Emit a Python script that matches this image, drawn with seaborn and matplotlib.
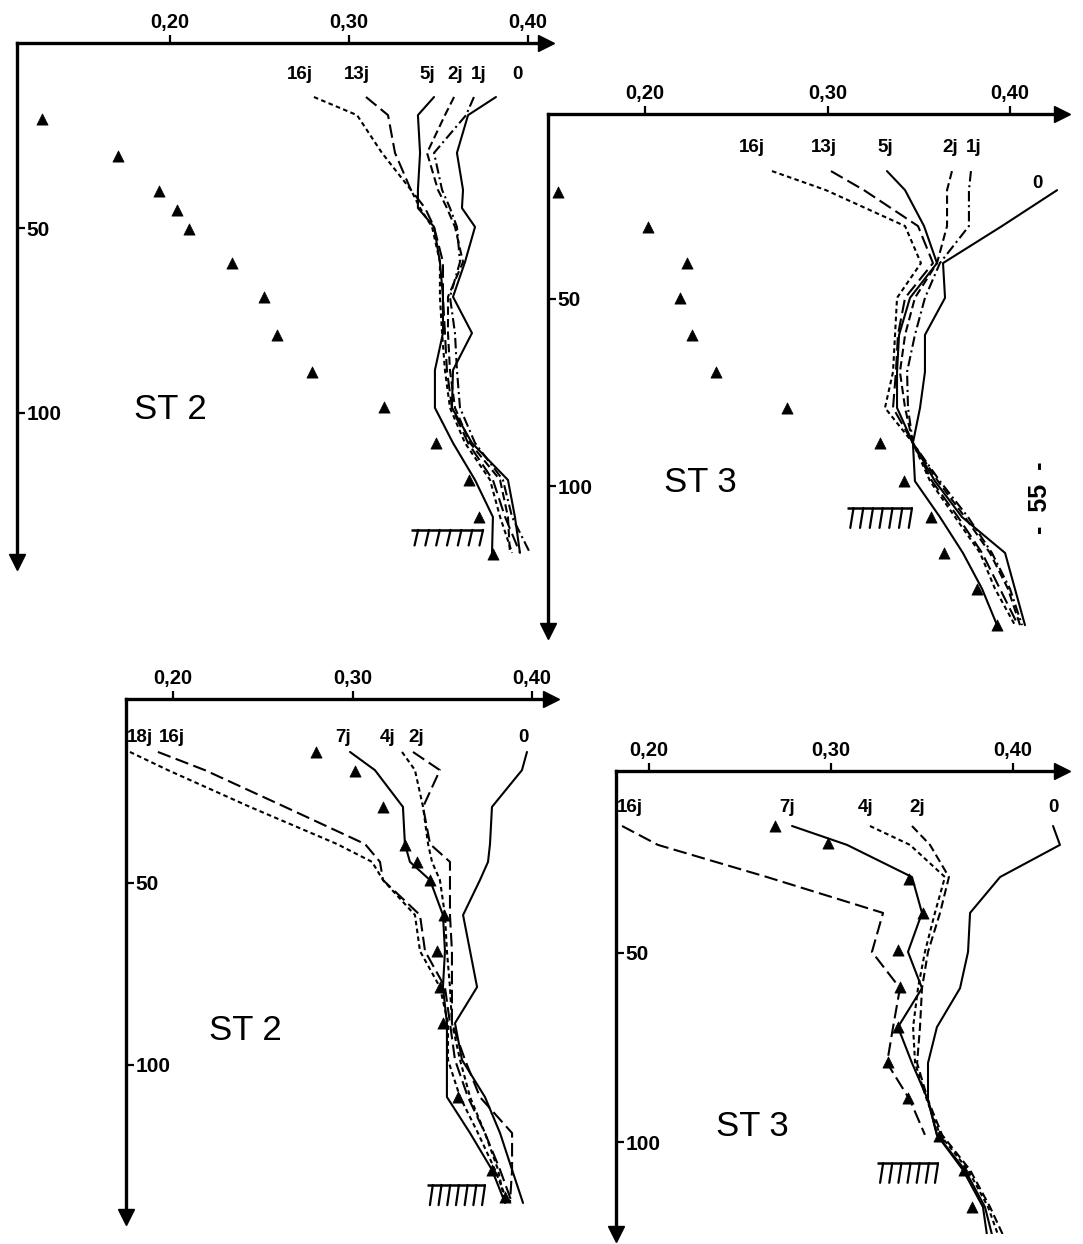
import numpy as np
import pandas as pd
import matplotlib
matplotlib.use("Agg")
import matplotlib.pyplot as plt
import seaborn as sns

sns.set_style("white")
plt.rcParams["font.family"] = ["Liberation Sans", "DejaVu Sans"]
plt.rcParams["text.color"] = "black"
plt.rcParams["xtick.color"] = "black"
plt.rcParams["ytick.color"] = "black"

# ---------------- data ----------------
xticks = [0.20, 0.30, 0.40]
xtick_labels = ["0,20", "0,30", "0,40"]
yticks = [50, 100]
ytick_labels = ["50", "100"]

# Panel A : ST 2 (top left)
a_depth = [14.6, 19.5, 29.7, 39.7, 44.6, 49.7, 59.2, 68.6, 78.4, 88.4, 98.6, 108.1, 118.1, 128.1, 137.8]
a_16j = [0.2804, 0.3045, 0.3184, 0.3346, 0.3397, 0.3464, 0.3508, 0.3508, 0.3520, 0.3536, 0.3564, 0.3648, 0.3788, 0.3844, 0.3911]
a_13j = [0.3095, 0.3218, 0.3257, 0.3346, 0.3425, 0.3475, 0.3525, 0.3525, 0.3536, 0.3547, 0.3575, 0.3665, 0.3804, 0.3872, 0.3955]
a_5j = [0.3475, 0.3385, 0.3397, 0.3385, 0.3385, 0.3475, 0.3508, 0.3525, 0.3525, 0.3480, 0.3480, 0.3581, 0.3704, 0.3804, 0.3799]
a_2j = [0.3587, 0.3536, 0.3436, 0.3497, 0.3547, 0.3592, 0.3637, 0.3553, 0.3553, 0.3564, 0.3592, 0.3676, 0.3844, 0.3888, 0.3899]
a_1j = [0.3698, 0.3654, 0.3475, 0.3520, 0.3564, 0.3603, 0.3620, 0.3564, 0.3592, 0.3603, 0.3620, 0.3704, 0.3860, 0.3911, 0.4011]
a_0 = [0.3821, 0.3665, 0.3603, 0.3637, 0.3631, 0.3704, 0.3648, 0.3581, 0.3687, 0.3581, 0.3575, 0.3687, 0.3888, 0.3927, 0.3955]
a_tri_depth = [20.5, 30.5, 40.0, 45.0, 50.3, 59.5, 68.6, 78.9, 88.9, 98.4, 108.0, 118.0, 128.0, 138.0]
a_tri_value = [0.1285, 0.1709, 0.1939, 0.2039, 0.2106, 0.2346, 0.2525, 0.2598, 0.2793, 0.3196, 0.3486, 0.3670, 0.3726, 0.3804]
a_labels = ["16j", "13j", "5j", "2j", "1j", "0"]
a_label_x = [0.2726, 0.3045, 0.3436, 0.3592, 0.3726, 0.3940]
a_label_d = [8.6, 8.6, 8.6, 8.6, 8.6, 8.6]
a_bottom_x = [0.3346, 0.3749]
a_bottom_d = [131.6, 135.8]

# Panel B : ST 3 (top right)
b_depth = [15.8, 20.9, 30.5, 40.4, 49.7, 59.6, 69.5, 79.1, 88.5, 98.7, 108.3, 117.9, 127.5, 137.2]
b_16j = [0.2696, 0.2992, 0.3425, 0.3512, 0.3381, 0.3370, 0.3359, 0.3315, 0.3468, 0.3562, 0.3699, 0.3836, 0.3918, 0.4027]
b_13j = [0.3019, 0.3200, 0.3496, 0.3578, 0.3425, 0.3386, 0.3375, 0.3359, 0.3468, 0.3573, 0.3715, 0.3847, 0.3945, 0.4044]
b_5j = [0.3326, 0.3425, 0.3529, 0.3600, 0.3452, 0.3392, 0.3381, 0.3381, 0.3468, 0.3589, 0.3737, 0.3973, 0.4027, 0.4082]
b_2j = [0.3682, 0.3655, 0.3655, 0.3600, 0.3479, 0.3425, 0.3397, 0.3425, 0.3468, 0.3605, 0.3753, 0.3890, 0.3989, 0.4055]
b_1j = [0.3786, 0.3775, 0.3775, 0.3616, 0.3534, 0.3479, 0.3436, 0.3441, 0.3468, 0.3616, 0.3770, 0.3901, 0.4000, 0.4066]
b_0 = [np.nan, 0.4258, 0.3956, 0.3633, 0.3644, 0.3534, 0.3534, 0.3507, 0.3468, 0.3479, 0.3616, 0.3742, 0.3847, 0.3929]
b_tri_depth = [21.4, 30.7, 40.4, 49.7, 59.6, 69.5, 79.1, 88.5, 98.7, 108.3, 117.9, 127.5, 137.2]
b_tri_value = [0.1523, 0.2016, 0.2230, 0.2192, 0.2258, 0.2389, 0.2778, 0.3288, 0.3419, 0.3567, 0.3638, 0.3819, 0.3929]
b_labels = ["16j", "13j", "5j", "2j", "1j", "0"]
b_label_x = [0.2586, 0.2981, 0.3315, 0.3671, 0.3803, 0.4148]
b_label_d = [9.6, 9.6, 9.6, 9.6, 9.6, 19.0]
b_bottom_x = [0.3107, 0.3463]
b_bottom_d = [105.9, 111.2]

# Panel C : ST 2 (bottom left)
c_depth = [14.0, 19.0, 29.1, 39.3, 44.2, 49.2, 58.8, 68.7, 78.6, 88.5, 98.6, 108.8, 118.7, 128.8, 137.9]
c_18j = [0.1760, 0.1972, 0.2429, 0.2914, 0.3109, 0.3170, 0.3348, 0.3376, 0.3487, 0.3532, 0.3532, 0.3599, 0.3699, 0.3794, 0.3866]
c_16j = [0.1916, 0.2178, 0.2624, 0.3070, 0.3153, 0.3170, 0.3376, 0.3404, 0.3515, 0.3543, 0.3571, 0.3643, 0.3738, 0.3822, 0.3889]
c_7j = [0.2986, 0.3125, 0.3281, 0.3292, 0.3320, 0.3432, 0.3504, 0.3515, 0.3504, 0.3526, 0.3526, 0.3526, 0.3655, 0.3777, 0.3850]
c_4j = [0.3276, 0.3348, 0.3393, 0.3421, 0.3443, 0.3487, 0.3515, 0.3526, 0.3543, 0.3554, 0.3599, 0.3655, 0.3738, 0.3811, 0.3850]
c_2j = [0.3337, 0.3487, 0.3393, 0.3432, 0.3543, 0.3543, 0.3543, 0.3554, 0.3554, 0.3554, 0.3627, 0.3710, 0.3889, 0.3889, 0.3877]
c_0 = [0.3972, 0.3944, 0.3777, 0.3766, 0.3755, 0.3710, 0.3616, 0.3655, 0.3694, 0.3571, 0.3610, 0.3738, 0.3822, 0.3889, 0.3950]
c_tri_depth = [14.0, 19.2, 29.1, 39.6, 44.2, 49.2, 58.8, 68.7, 78.6, 88.5, 108.8, 128.8, 136.3]
c_tri_value = [0.2797, 0.3014, 0.3170, 0.3292, 0.3359, 0.3432, 0.3510, 0.3470, 0.3487, 0.3504, 0.3588, 0.3777, 0.3850]
c_labels = ["18j", "16j", "7j", "4j", "2j", "0"]
c_label_x = [0.1816, 0.1994, 0.2947, 0.3198, 0.3354, 0.3955]
c_label_d = [9.9, 9.9, 9.9, 9.9, 9.9, 9.9]
c_bottom_x = [0.3415, 0.3738]
c_bottom_d = [133.0, 138.5]

# Panel D : ST 3 (bottom right)
d_depth = [16.4, 21.4, 29.9, 39.4, 49.7, 59.3, 69.6, 79.1, 88.9, 98.1, 107.4, 117.2, 124.6]
d_16j = [0.1852, 0.2049, 0.2648, 0.3286, 0.3225, 0.3379, 0.3341, 0.3308, 0.3434, 0.3516, np.nan, np.nan, np.nan]
d_7j = [0.2786, 0.3088, 0.3445, 0.3500, 0.3423, 0.3500, 0.3368, 0.3445, 0.3533, 0.3582, 0.3736, 0.3846, 0.3885]
d_4j = [0.3214, 0.3434, 0.3626, 0.3571, 0.3516, 0.3478, 0.3451, 0.3462, 0.3527, 0.3599, 0.3753, 0.3863, 0.3918]
d_2j = [0.3445, 0.3544, 0.3648, 0.3599, 0.3533, 0.3500, 0.3489, 0.3473, 0.3533, 0.3610, 0.3764, 0.3874, 0.3945]
d_0 = [0.4220, 0.4258, 0.3929, 0.3764, 0.3753, 0.3709, 0.3582, 0.3533, 0.3533, 0.3582, 0.3725, 0.3835, 0.3857]
d_tri_depth = [16.4, 20.9, 30.4, 39.4, 49.2, 59.0, 69.6, 78.8, 88.4, 98.4, 107.4, 117.2]
d_tri_value = [0.2692, 0.2984, 0.3429, 0.3505, 0.3368, 0.3379, 0.3368, 0.3313, 0.3423, 0.3593, 0.3731, 0.3775]
d_labels = ["16j", "7j", "4j", "2j", "0"]
d_label_x = [0.1896, 0.2758, 0.3192, 0.3473, 0.4220]
d_label_d = [11.6, 11.6, 11.6, 11.6, 11.6]
d_bottom_x = [0.3253, 0.3588]
d_bottom_d = [105.6, 110.8]

# ---------------- styles ----------------
SOLID = ""
SHORT = (2.2, 1.6)
MED = (4.0, 2.0)
LONG = (6.5, 2.6)
DASHDOT = (5.0, 1.8, 1.0, 1.8)

FIG_W, FIG_H = 1083, 1244


def rect(px_left, px_top, px_right, px_bottom):
    return [px_left / FIG_W, 1 - px_bottom / FIG_H,
            (px_right - px_left) / FIG_W, (px_bottom - px_top) / FIG_H]


def draw_panel(ax, depth, curves, dashes, tri_v, tri_d, labels, lab_x, lab_d,
               bottom_x, bottom_d, station, st_x, st_d, xlim, ylim):
    rows = []
    for name, vals in curves.items():
        for d, v in zip(depth, vals):
            rows.append({"curve": name, "value": v, "depth": d})
    df = pd.DataFrame(rows).dropna()
    sns.lineplot(data=df, x="value", y="depth", hue="curve", style="curve",
                 palette={k: "black" for k in curves}, dashes=dashes,
                 estimator=None, sort=False, linewidth=1.5, legend=False, ax=ax)
    sns.scatterplot(x=tri_v, y=tri_d, marker="^", color="black", s=65,
                    edgecolor="black", linewidth=0.5, ax=ax, zorder=5)
    for t, x, d in zip(labels, lab_x, lab_d):
        ax.text(x, d, t, ha="center", va="center", fontsize=13.5,
                fontweight="bold", color="black")
    # bottom (sediment) symbol
    x0, x1 = bottom_x
    dt, db = bottom_d
    ax.plot([x0, x1], [dt, dt], color="black", lw=1.8, solid_capstyle="butt")
    slant = (x1 - x0) * 0.05
    for xs in np.linspace(x0 + (x1 - x0) * 0.1, x1, 7):
        ax.plot([xs, xs - slant], [dt, db], color="black", lw=1.6)
    ax.text(st_x, st_d, station, ha="center", va="center", fontsize=25,
            color="black",
            family=["Liberation Sans Narrow", "Liberation Sans", "DejaVu Sans"])

    ax.set_xlim(*xlim)
    ax.set_ylim(*ylim)
    ax.set_xlabel("")
    ax.set_ylabel("")
    ax.xaxis.tick_top()
    ax.set_xticks(xticks)
    ax.set_xticklabels(xtick_labels, fontsize=14.5, fontweight="bold")
    ax.set_yticks(yticks)
    ax.set_yticklabels(ytick_labels, fontsize=15, fontweight="bold")
    ax.tick_params(axis="x", direction="out", length=6, width=1.6, pad=2,
                   top=True, bottom=False, labeltop=True, labelbottom=False,
                   colors="black")
    ax.tick_params(axis="y", direction="in", length=6, width=1.6, pad=-7,
                   left=True, right=False, colors="black")
    for lab in ax.get_yticklabels():
        lab.set_horizontalalignment("left")
    for s in ["right", "bottom"]:
        ax.spines[s].set_visible(False)
    for s in ["top", "left"]:
        ax.spines[s].set_linewidth(2.4)
        ax.spines[s].set_color("black")
    ax.set_facecolor("none")
    ax.plot([1.0], [1.0], marker=">", ms=12, color="black",
            transform=ax.transAxes, clip_on=False)
    ax.plot([0.0], [0.0], marker="v", ms=12, color="black",
            transform=ax.transAxes, clip_on=False)
    ax.grid(False)


fig = plt.figure(figsize=(FIG_W / 100, FIG_H / 100), dpi=100)
fig.patch.set_facecolor("white")

axA = fig.add_axes(rect(17, 43, 546, 562))
draw_panel(axA, a_depth,
           {"16j": a_16j, "13j": a_13j, "5j": a_5j, "2j": a_2j, "1j": a_1j, "0": a_0},
           {"16j": SHORT, "13j": LONG, "5j": SOLID, "2j": MED, "1j": DASHDOT, "0": SOLID},
           a_tri_value, a_tri_depth, a_labels, a_label_x, a_label_d,
           a_bottom_x, a_bottom_d, "ST 2", 0.200, 99.0,
           (0.20 + (17 - 170) / 1790, 0.20 + (546 - 170) / 1790),
           ((562 - 43) / 3.7, 0.0))

axB = fig.add_axes(rect(548, 114, 1062, 631))
draw_panel(axB, b_depth,
           {"16j": b_16j, "13j": b_13j, "5j": b_5j, "2j": b_2j, "1j": b_1j, "0": b_0},
           {"16j": SHORT, "13j": LONG, "5j": SOLID, "2j": MED, "1j": DASHDOT, "0": SOLID},
           b_tri_value, b_tri_depth, b_labels, b_label_x, b_label_d,
           b_bottom_x, b_bottom_d, "ST 3", 0.2301, 99.0,
           (0.20 + (548 - 645) / 1825, 0.20 + (1062 - 645) / 1825),
           ((631 - 112) / 3.74, (114 - 112) / 3.74))

axC = fig.add_axes(rect(126, 699, 551, 1217))
draw_panel(axC, c_depth,
           {"18j": c_18j, "16j": c_16j, "7j": c_7j, "4j": c_4j, "2j": c_2j, "0": c_0},
           {"18j": SHORT, "16j": LONG, "7j": SOLID, "4j": SHORT, "2j": LONG, "0": SOLID},
           c_tri_value, c_tri_depth, c_labels, c_label_x, c_label_d,
           c_bottom_x, c_bottom_d, "ST 2", 0.2401, 90.4,
           (0.20 + (126 - 173) / 1795, 0.20 + (551 - 173) / 1795),
           ((1217 - 701) / 3.64, (699 - 701) / 3.64))

axD = fig.add_axes(rect(616, 771, 1062, 1234))
draw_panel(axD, d_depth,
           {"16j": d_16j, "7j": d_7j, "4j": d_4j, "2j": d_2j, "0": d_0},
           {"16j": LONG, "7j": SOLID, "4j": SHORT, "2j": MED, "0": SOLID},
           d_tri_value, d_tri_depth, d_labels, d_label_x, d_label_d,
           d_bottom_x, d_bottom_d, "ST 3", 0.2566, 95.8,
           (0.20 + (616 - 649) / 1820, 0.20 + (1062 - 649) / 1820),
           ((1234 - 764) / 3.78, (771 - 764) / 3.78))

fig.text(1040 / FIG_W, 1 - 498 / FIG_H, "-  55  -", rotation=90,
         ha="center", va="center", fontsize=18, fontweight="bold", color="black")

fig.savefig("out.png", dpi=100, facecolor="white")
